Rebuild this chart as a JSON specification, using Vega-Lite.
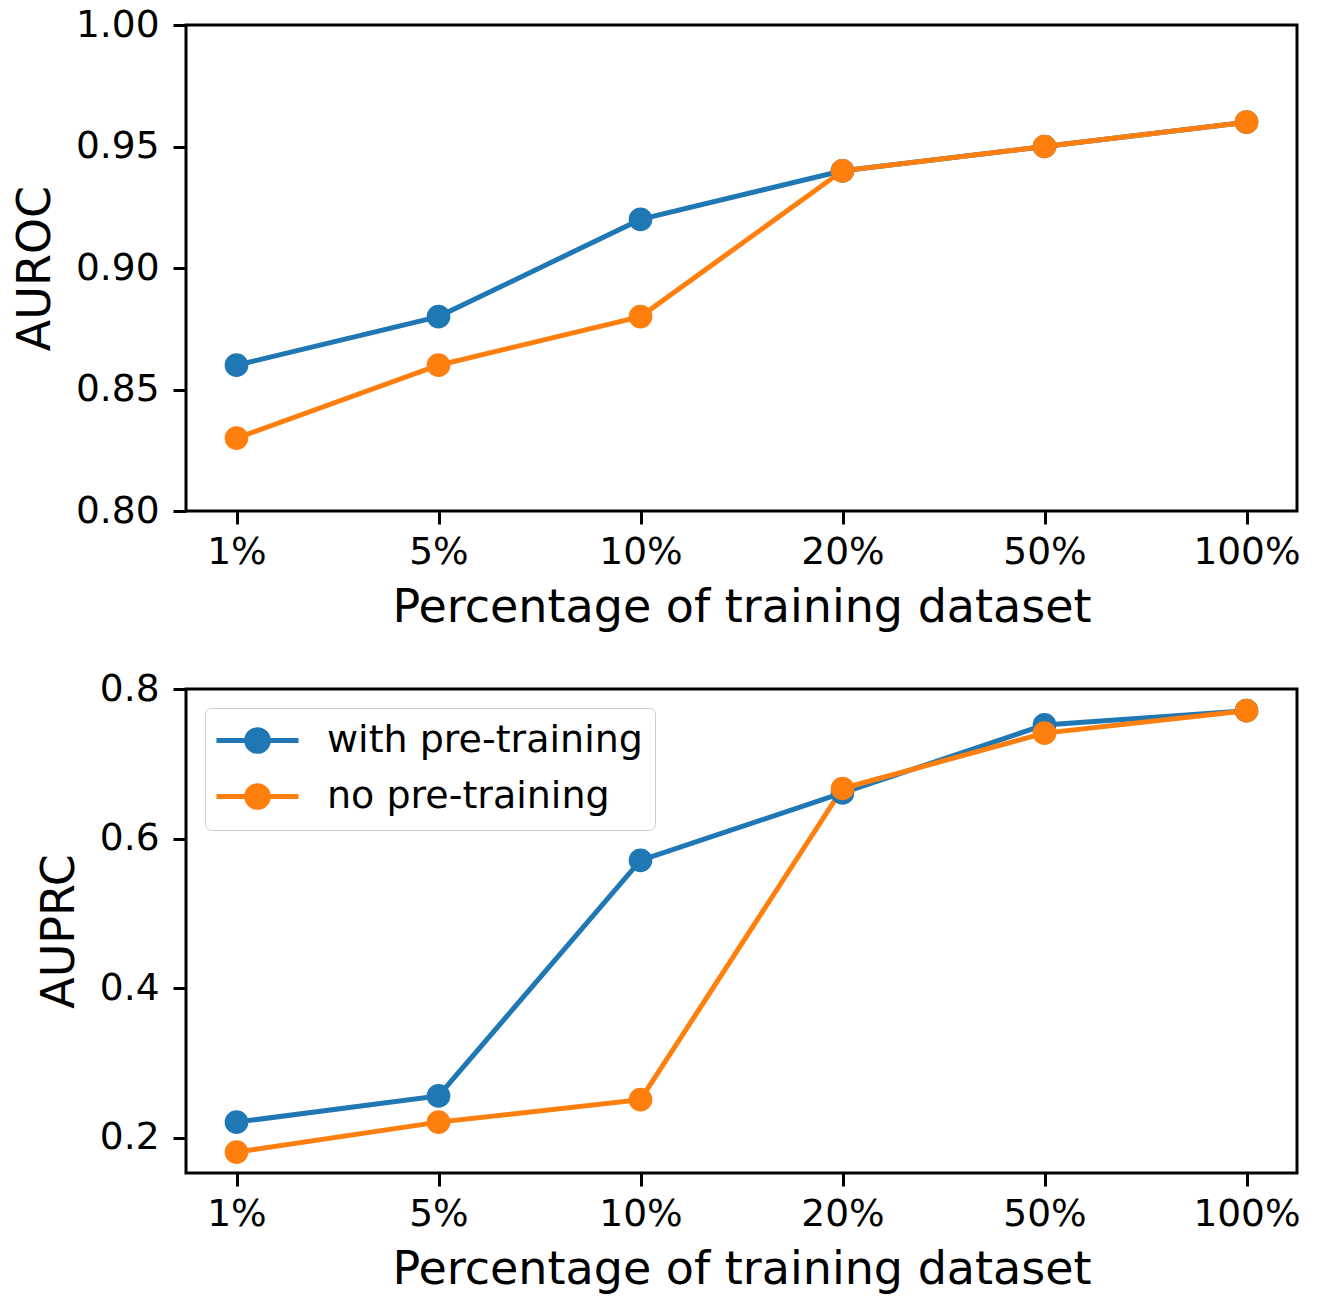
{
  "$schema": "https://vega.github.io/schema/vega-lite/v6.json",
  "padding": {"left": 11, "top": 4, "right": 10, "bottom": 10},
  "background": "white",
  "datasets": {
    "auroc": [
      {"pct": "1%", "series": "with pre-training", "value": 0.86},
      {"pct": "5%", "series": "with pre-training", "value": 0.88},
      {"pct": "10%", "series": "with pre-training", "value": 0.92},
      {"pct": "20%", "series": "with pre-training", "value": 0.94},
      {"pct": "50%", "series": "with pre-training", "value": 0.95},
      {"pct": "100%", "series": "with pre-training", "value": 0.96},
      {"pct": "1%", "series": "no pre-training", "value": 0.83},
      {"pct": "5%", "series": "no pre-training", "value": 0.86},
      {"pct": "10%", "series": "no pre-training", "value": 0.88},
      {"pct": "20%", "series": "no pre-training", "value": 0.94},
      {"pct": "50%", "series": "no pre-training", "value": 0.95},
      {"pct": "100%", "series": "no pre-training", "value": 0.96}
    ],
    "auprc": [
      {"pct": "1%", "series": "with pre-training", "value": 0.221},
      {"pct": "5%", "series": "with pre-training", "value": 0.256},
      {"pct": "10%", "series": "with pre-training", "value": 0.571},
      {"pct": "20%", "series": "with pre-training", "value": 0.661},
      {"pct": "50%", "series": "with pre-training", "value": 0.752},
      {"pct": "100%", "series": "with pre-training", "value": 0.771},
      {"pct": "1%", "series": "no pre-training", "value": 0.181},
      {"pct": "5%", "series": "no pre-training", "value": 0.221},
      {"pct": "10%", "series": "no pre-training", "value": 0.251},
      {"pct": "20%", "series": "no pre-training", "value": 0.667},
      {"pct": "50%", "series": "no pre-training", "value": 0.741},
      {"pct": "100%", "series": "no pre-training", "value": 0.771}
    ]
  },
  "spacing": 178,
  "bounds": "flush",
  "resolve": {"legend": {"color": "independent"}},
  "vconcat": [
    {
      "width": 1111,
      "height": 486,
      "data": {"name": "auroc"},
      "encoding": {
        "x": {"field": "pct", "type": "ordinal", "sort": ["1%", "5%", "10%", "20%", "50%", "100%"],
              "scale": {"type": "point", "padding": 0.25},
              "axis": {"title": "Percentage of training dataset", "labelAngle": 0}},
        "y": {"field": "value", "type": "quantitative",
              "scale": {"domain": [0.8, 1.0], "nice": false, "zero": false},
              "axis": {"title": "AUROC", "values": [0.8, 0.85, 0.9, 0.95, 1.0], "format": ".2f"}},
        "color": {"field": "series", "type": "nominal",
                  "scale": {"domain": ["with pre-training", "no pre-training"], "range": ["#1f77b4", "#ff7f0e"]},
                  "legend": null}
      },
      "layer": [
        {"mark": {"type": "line", "strokeWidth": 5}},
        {"mark": {"type": "point", "filled": true, "size": 560, "opacity": 1}}
      ]
    },
    {
      "width": 1111,
      "height": 484,
      "data": {"name": "auprc"},
      "encoding": {
        "x": {"field": "pct", "type": "ordinal", "sort": ["1%", "5%", "10%", "20%", "50%", "100%"],
              "scale": {"type": "point", "padding": 0.25},
              "axis": {"title": "Percentage of training dataset", "labelAngle": 0}},
        "y": {"field": "value", "type": "quantitative",
              "scale": {"domain": [0.153, 0.8], "nice": false, "zero": false},
              "axis": {"title": "AUPRC", "values": [0.2, 0.4, 0.6, 0.8], "format": ".1f"}},
        "color": {"field": "series", "type": "nominal",
                  "scale": {"domain": ["with pre-training", "no pre-training"], "range": ["#1f77b4", "#ff7f0e"]},
                  "legend": {
                    "title": null,
                    "orient": "top-left",
                    "offset": 19,
                    "padding": 12,
                    "rowPadding": 13,
                    "fillColor": "rgba(255,255,255,0.8)",
                    "strokeColor": "#cccccc",
                    "cornerRadius": 6,
                    "symbolType": "M-2.28,0L2.28,0M0.6,0A0.6,0.6,0,1,1,-0.6,0A0.6,0.6,0,1,1,0.6,0",
                    "symbolSize": 1296,
                    "symbolStrokeWidth": 5,
                    "symbolOpacity": 1,
                    "symbolOffset": 20,
                    "labelOffset": 49,
                    "labelFontSize": 38,
                    "labelFont": "DejaVu Sans",
                    "labelColor": "black",
                    "labelLimit": 600
                  }}
      },
      "layer": [
        {"mark": {"type": "line", "strokeWidth": 5}},
        {"mark": {"type": "point", "filled": true, "size": 560, "opacity": 1}}
      ]
    }
  ],
  "config": {
    "view": {"stroke": "black", "strokeWidth": 3},
    "axis": {
      "domain": false,
      "grid": false,
      "ticks": true,
      "tickColor": "black",
      "tickWidth": 3,
      "tickSize": 13,
      "labelFont": "DejaVu Sans",
      "labelFontSize": 37.5,
      "labelColor": "black",
      "labelPadding": 9,
      "titleFont": "DejaVu Sans",
      "titleFontSize": 46,
      "titleFontWeight": "normal",
      "titleColor": "black",
      "titlePadding": 15
    },
    "axisY": {"labelPadding": 14, "titlePadding": 16}
  }
}
